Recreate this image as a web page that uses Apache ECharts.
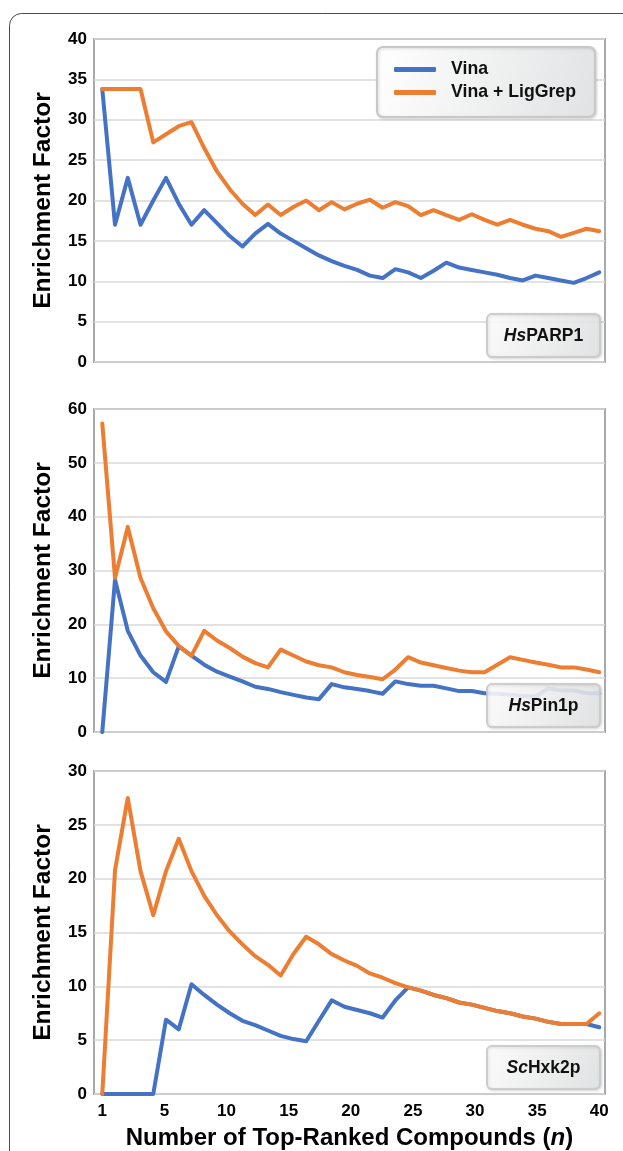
<!DOCTYPE html>
<html>
<head>
<meta charset="utf-8">
<script src="https://cdn.jsdelivr.net/npm/echarts@6/dist/echarts.min.js"></script>
<style>
html,body{margin:0;padding:0;background:#fff;}
#chart{width:623px;height:1151px;}
</style>
</head>
<body>
<div id="chart"></div>
<script>
// ---- data ----
const nValues = [1,2,3,4,5,6,7,8,9,10,11,12,13,14,15,16,17,18,19,20,21,22,23,24,25,26,27,28,29,30,31,32,33,34,35,36,37,38,39,40];
const xTickLabels = ['1','5','10','15','20','25','30','35','40'];
const seriesNames = ['Vina', 'Vina + LigGrep'];
const panelLabels = [['Hs','PARP1'], ['Hs','Pin1p'], ['Sc','Hxk2p']];

const parp1Vina = [33.8,17.0,22.8,17.0,20.0,22.8,19.6,17.0,18.8,17.2, 15.6,14.3,15.9,17.1,15.9,15.0,14.1,13.2,12.5,11.9, 11.4,10.7,10.4,11.5,11.1,10.4,11.3,12.3,11.7,11.4, 11.1,10.8,10.4,10.1,10.7,10.4,10.1,9.8,10.4,11.1];
const parp1LigGrep = [33.8,33.8,33.8,33.8,27.2,28.2,29.2,29.7,26.5,23.6, 21.4,19.6,18.2,19.5,18.2,19.2,20.0,18.8,19.8,18.9, 19.6,20.1,19.1,19.8,19.3,18.2,18.8,18.2,17.6,18.3, 17.6,17.0,17.6,17.0,16.5,16.2,15.5,16.0,16.5,16.2];

const pin1Vina = [0,28.3,18.8,14.2,11.1,9.3,15.9,14.2,12.5,11.2, 10.3,9.4,8.4,8.0,7.4,6.9,6.4,6.1,8.9,8.3, 8.0,7.6,7.1,9.4,8.9,8.6,8.6,8.1,7.6,7.6, 7.2,7.1,6.9,6.7,6.6,8.1,7.7,7.7,7.2,7.2];
const pin1LigGrep = [57.3,28.6,38.1,28.6,23.0,18.7,16.0,14.2,18.8,17.0, 15.6,14.0,12.8,12.0,15.3,14.2,13.1,12.4,12.0,11.1, 10.6,10.2,9.8,11.6,13.9,12.9,12.4,11.9,11.4,11.1, 11.1,12.5,13.9,13.4,12.9,12.5,12.0,12.0,11.6,11.1];

const hxk2Vina = [0,0,0,0,0,6.9,6.0,10.2,9.2,8.3, 7.5,6.8,6.4,5.9,5.4,5.1,4.9,6.8,8.7,8.1, 7.8,7.5,7.1,8.7,9.9,9.6,9.2,8.9,8.5,8.3, 8.0,7.7,7.5,7.2,7.0,6.7,6.5,6.5,6.5,6.2];
const hxk2LigGrep = [0,20.8,27.5,20.7,16.6,20.7,23.7,20.7,18.4,16.6, 15.1,13.9,12.8,12.0,11.0,13.0,14.6,13.9,13.0,12.4, 11.9,11.2,10.8,10.3,9.9,9.6,9.2,8.9,8.5,8.3, 8.0,7.7,7.5,7.2,7.0,6.7,6.5,6.5,6.5,7.5];

const yMax = [40, 60, 30];
const yInterval = [5, 10, 5];
// ---- end data ----

const FONT = '"Liberation Sans", Arial, Helvetica, sans-serif';
const BLUE = '#4472C4';
const ORANGE = '#ED7D31';

const panels = [
  [parp1Vina, parp1LigGrep],
  [pin1Vina, pin1LigGrep],
  [hxk2Vina, hxk2LigGrep]
];

const gridTops = [39, 409, 771];
const gridLeft = 94, gridWidth = 511, gridHeight = 323;

const firstN = nValues[0], lastN = nValues[nValues.length - 1];
const xTickPos = xTickLabels.map((_, k) => firstN + k * (lastN - firstN) / (xTickLabels.length - 1));

function xLabelFormatter(v) {
  for (let k = 0; k < xTickPos.length; k++) {
    if (Math.abs(xTickPos[k] - v) < 1e-6) return xTickLabels[k];
  }
  return '';
}

const grids = gridTops.map(t => ({
  left: gridLeft, top: t, width: gridWidth, height: gridHeight,
  show: true, borderColor: '#a9a9a9', borderWidth: 2,
  backgroundColor: 'transparent', containLabel: false, outerBoundsMode: 'none'
}));

const xAxes = [0, 1, 2].map(i => ({
  type: 'value', gridIndex: i, min: 0.35, max: 40.45,
  axisLine: { show: false }, axisTick: { show: false }, splitLine: { show: false },
  axisLabel: {
    show: i === 2, customValues: xTickPos, formatter: xLabelFormatter,
    margin: 9, fontSize: 17, fontWeight: 'bold', color: '#000', fontFamily: FONT
  },
  name: i === 2 ? '{b|Number of Top-Ranked Compounds (}{i|n}{b|)}' : '',
  nameLocation: 'middle', nameGap: 32,
  nameTextStyle: {
    fontSize: 24, fontWeight: 'bold', color: '#000', fontFamily: FONT,
    rich: {
      b: { fontSize: 24, fontWeight: 'bold', color: '#000', fontFamily: FONT },
      i: { fontSize: 24, fontWeight: 'bold', fontStyle: 'italic', color: '#000', fontFamily: FONT }
    }
  }
}));

const yAxes = [0, 1, 2].map(i => ({
  type: 'value', gridIndex: i, min: 0, max: yMax[i], interval: yInterval[i],
  axisLine: { show: false }, axisTick: { show: false },
  splitLine: { show: true, lineStyle: { color: '#d9d9d9', width: 1.5 } },
  axisLabel: { margin: 7, fontSize: 17, fontWeight: 'bold', color: '#000', fontFamily: FONT },
  name: 'Enrichment Factor', nameLocation: 'middle', nameGap: 38,
  nameTextStyle: { fontSize: 24.5, fontWeight: 'bold', color: '#000', fontFamily: FONT }
}));

const series = [];
panels.forEach((pair, i) => {
  pair.forEach((vals, s) => {
    series.push({
      type: 'line', name: seriesNames[s], xAxisIndex: i, yAxisIndex: i,
      data: nValues.map((n, k) => [n, vals[k]]),
      symbol: 'none', smooth: false,
      color: s === 0 ? BLUE : ORANGE,
      lineStyle: { width: 4, color: s === 0 ? BLUE : ORANGE, join: 'round', cap: 'round' },
      z: 2 + s
    });
  });
});

const boxFill = {
  type: 'linear', x: 0, y: 0, x2: 1, y2: 1,
  colorStops: [{ offset: 0, color: '#ffffff' }, { offset: 1, color: '#e1e2e3' }]
};

const labelBoxTops = [313, 683, 1045];
const graphics = [{
  type: 'rect', z: 0, silent: true,
  shape: { x: 9.5, y: 13.5, width: 720, height: 1300, r: 12 },
  style: { fill: 'none', stroke: '#4a4a4a', lineWidth: 1 }
}];
labelBoxTops.forEach((t, i) => {
  graphics.push({
    type: 'group', left: 486, top: t, z: 20, silent: true,
    children: [
      {
        type: 'rect', z: 20,
        shape: { x: 0, y: 0, width: 113, height: 43, r: 5 },
        style: { fill: boxFill, stroke: '#c8c8c8', lineWidth: 2, opacity: 0.88,
                 shadowBlur: 3, shadowColor: 'rgba(0,0,0,0.15)', shadowOffsetX: 1, shadowOffsetY: 1 }
      },
      {
        type: 'text', z: 21,
        style: {
          x: 56.5, y: 22, align: 'center', verticalAlign: 'middle',
          text: '{i|' + panelLabels[i][0] + '}{b|' + panelLabels[i][1] + '}',
          rich: {
            i: { fontSize: 17.5, fontWeight: 'bold', fontStyle: 'italic', fill: '#111', fontFamily: FONT },
            b: { fontSize: 17.5, fontWeight: 'bold', fill: '#111', fontFamily: FONT }
          }
        }
      }
    ]
  });
});

const chart = echarts.init(document.getElementById('chart'), null, { renderer: 'canvas' });
chart.setOption({
  animation: false,
  backgroundColor: '#ffffff',
  textStyle: { fontFamily: FONT },
  legend: {
    data: seriesNames,
    orient: 'vertical', left: 377, top: 47,
    padding: [11, 19, 13, 17], itemGap: 0,
    icon: 'roundRect', itemWidth: 42, itemHeight: 5,
    itemStyle: { borderWidth: 0 },
    backgroundColor: boxFill, borderColor: '#c8c8c8', borderWidth: 2, borderRadius: 6,
    shadowBlur: 3, shadowColor: 'rgba(0,0,0,0.15)', shadowOffsetX: 1, shadowOffsetY: 1,
    textStyle: { fontSize: 17.7, fontWeight: 'bold', color: '#111', fontFamily: FONT, lineHeight: 23, padding: [0, 0, 0, 10] },
    selectedMode: false
  },
  grid: grids,
  xAxis: xAxes,
  yAxis: yAxes,
  series: series,
  graphic: graphics
});
</script>
</body>
</html>
